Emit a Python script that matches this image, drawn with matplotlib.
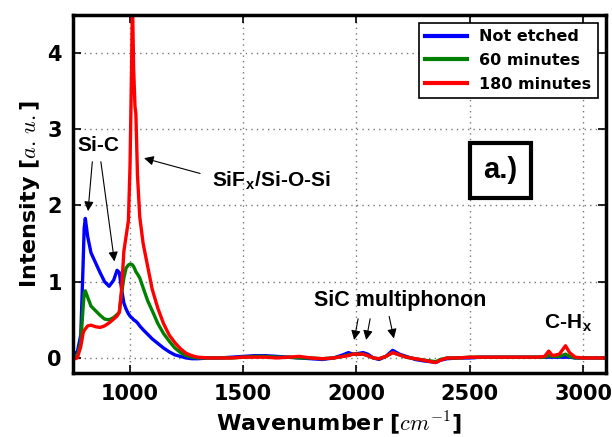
import matplotlib
matplotlib.use("Agg")
import matplotlib.pyplot as plt

plt.rcParams['mathtext.fontset'] = 'cm'

# wavenumber grid [cm^-1]
wn = [750, 770, 785, 795, 800, 805, 815, 830, 850, 870,
      890, 910, 930, 945, 955, 965, 975, 985, 995, 1002,
      1008, 1013, 1018, 1024, 1028, 1035, 1045, 1060, 1080, 1100,
      1125, 1150, 1175, 1200, 1225, 1250, 1275, 1300,
      1350, 1400, 1450, 1500, 1550, 1600, 1650, 1700, 1750, 1800,
      1850, 1900, 1940, 1965, 1985, 2000, 2030, 2050, 2075, 2100,
      2130, 2160, 2190, 2220, 2260, 2300, 2330, 2350, 2370, 2400,
      2450, 2500, 2550, 2600, 2650, 2700, 2750, 2800, 2830, 2848,
      2865, 2895, 2922, 2940, 2965, 3000, 3050, 3100]

not_etched = [0.05, 0.08, 0.3, 1.2, 1.7, 1.83, 1.6, 1.38, 1.25, 1.12,
              1.0, 0.94, 1.02, 1.15, 1.12, 0.9, 0.72, 0.64, 0.58, 0.55,
              0.53, 0.52, 0.5, 0.49, 0.48, 0.46, 0.42, 0.37, 0.31, 0.25,
              0.19, 0.13, 0.08, 0.04, 0.02, 0.0, -0.01, -0.01,
              0.0, 0.0, 0.01, 0.02, 0.03, 0.03, 0.02, 0.01, 0.0, -0.01,
              -0.02, 0.0, 0.04, 0.07, 0.05, 0.055, 0.07, 0.05, 0.0, -0.02,
              0.02, 0.10, 0.05, 0.02, -0.02, -0.04, -0.05, -0.06, -0.03, -0.01,
              0.0, 0.0, 0.01, 0.01, 0.01, 0.01, 0.01, 0.01, 0.01, 0.01,
              0.01, 0.01, 0.01, 0.01, 0.0, 0.0, 0.0, 0.0]

min60 = [0.0, 0.03, 0.2, 0.65, 0.85, 0.88, 0.8, 0.68, 0.62, 0.56,
         0.51, 0.5, 0.53, 0.57, 0.6, 0.85, 1.05, 1.18, 1.22, 1.23,
         1.23, 1.22, 1.2, 1.16, 1.13, 1.1, 1.05, 0.92, 0.75, 0.62,
         0.45, 0.32, 0.22, 0.13, 0.07, 0.03, 0.01, 0.0,
         0.0, 0.0, 0.0, 0.01, 0.02, 0.02, 0.01, 0.01, 0.0, 0.0,
         -0.01, 0.0, 0.02, 0.04, 0.05, 0.05, 0.05, 0.03, 0.0, -0.01,
         0.02, 0.07, 0.04, 0.01, -0.01, -0.03, -0.04, -0.05, -0.02, 0.0,
         0.0, 0.01, 0.01, 0.01, 0.01, 0.01, 0.01, 0.01, 0.01, 0.03,
         0.02, 0.02, 0.05, 0.02, 0.0, 0.0, 0.0, 0.0]

min180 = [-0.02, 0.0, 0.15, 0.32, 0.36, 0.38, 0.42, 0.43, 0.41, 0.40,
          0.42, 0.46, 0.51, 0.55, 0.6, 0.9, 1.4, 1.6, 1.8, 2.5,
          3.6, 4.7, 3.8, 3.3, 3.2, 2.4, 1.85, 1.5, 1.2, 0.9,
          0.65, 0.45, 0.3, 0.2, 0.12, 0.06, 0.03, 0.01,
          0.0, 0.0, 0.0, 0.01, 0.01, 0.01, 0.0, 0.01, 0.02, 0.0,
          -0.01, 0.0, 0.02, 0.03, 0.05, 0.05, 0.05, 0.03, 0.0, -0.01,
          0.02, 0.07, 0.04, 0.01, -0.01, -0.03, -0.05, -0.06, -0.03, 0.0,
          0.0, 0.01, 0.01, 0.01, 0.01, 0.01, 0.01, 0.01, 0.02, 0.09,
          0.03, 0.05, 0.16, 0.07, 0.01, 0.0, 0.0, 0.0]

fig = plt.figure(figsize=(6.12, 4.37), dpi=100)
ax = fig.add_axes([0.119, 0.146, 0.871, 0.82])

ax.plot(wn, not_etched, color='b', lw=2.4, label='Not etched')
ax.plot(wn, min60, color='g', lw=2.4, label='60 minutes')
ax.plot(wn, min180, color='r', lw=2.4, label='180 minutes')

ax.set_xlim(750, 3100)
ax.set_ylim(-0.2, 4.5)
ax.set_xticks([1000, 1500, 2000, 2500, 3000])
ax.set_yticks([0, 1, 2, 3, 4])
ax.grid(True, linestyle=(0, (1, 3)), color='#777777', lw=1)
for s in ax.spines.values():
    s.set_linewidth(2.5)
ax.tick_params(labelsize=15, width=1.2, length=6, direction='in',
               top=True, right=True, pad=8)
for t in ax.get_xticklabels() + ax.get_yticklabels():
    t.set_fontweight('bold')

ax.set_xlabel(r'Wavenumber [$cm^{-1}$]', fontsize=16, fontweight='bold',
              labelpad=4)
ax.set_ylabel(r'Intensity [$a.\,u.$]', fontsize=16, fontweight='bold')

leg = ax.legend(loc='upper right', prop={'weight': 'bold', 'size': 11.5},
                fancybox=False, edgecolor='black', borderaxespad=0.5,
                handlelength=2.6, labelspacing=0.55, framealpha=1)
leg.get_frame().set_linewidth(1.2)
for l in leg.get_lines():
    l.set_linewidth(3)

font = 'Liberation Sans'
arrow = dict(arrowstyle='-|>', color='black', lw=0.8, mutation_scale=14)

ax.text(865, 2.79, 'Si-C', fontsize=15, fontweight='bold', family=font,
        ha='center', va='center')
ax.annotate('', xy=(816, 1.89), xytext=(837, 2.61), arrowprops=arrow)
ax.annotate('', xy=(935, 1.23), xytext=(872, 2.61), arrowprops=arrow)

ax.text(1627, 2.32, r'SiF$_\mathregular{x}$/Si-O-Si', fontsize=15,
        fontweight='bold', family=font, ha='center', va='center')
ax.annotate('', xy=(1052, 2.63), xytext=(1323, 2.41), arrowprops=arrow)

ax.text(2195, 0.75, 'SiC multiphonon', fontsize=15.5, fontweight='bold',
        family=font, ha='center', va='center')
ax.annotate('', xy=(1988, 0.2), xytext=(2010, 0.55), arrowprops=arrow)
ax.annotate('', xy=(2041, 0.2), xytext=(2063, 0.55), arrowprops=arrow)
ax.annotate('', xy=(2168, 0.22), xytext=(2142, 0.58), arrowprops=arrow)

ax.text(2931, 0.46, r'C-H$_\mathregular{x}$', fontsize=15, fontweight='bold',
        family=font, ha='center', va='center')

ax.text(2635, 2.46, 'a.)', fontsize=21, fontweight='bold', family=font,
        ha='center', va='center',
        bbox=dict(boxstyle='square,pad=0.45', fc='white', ec='black', lw=3))

fig.savefig('out.png', dpi=100)
